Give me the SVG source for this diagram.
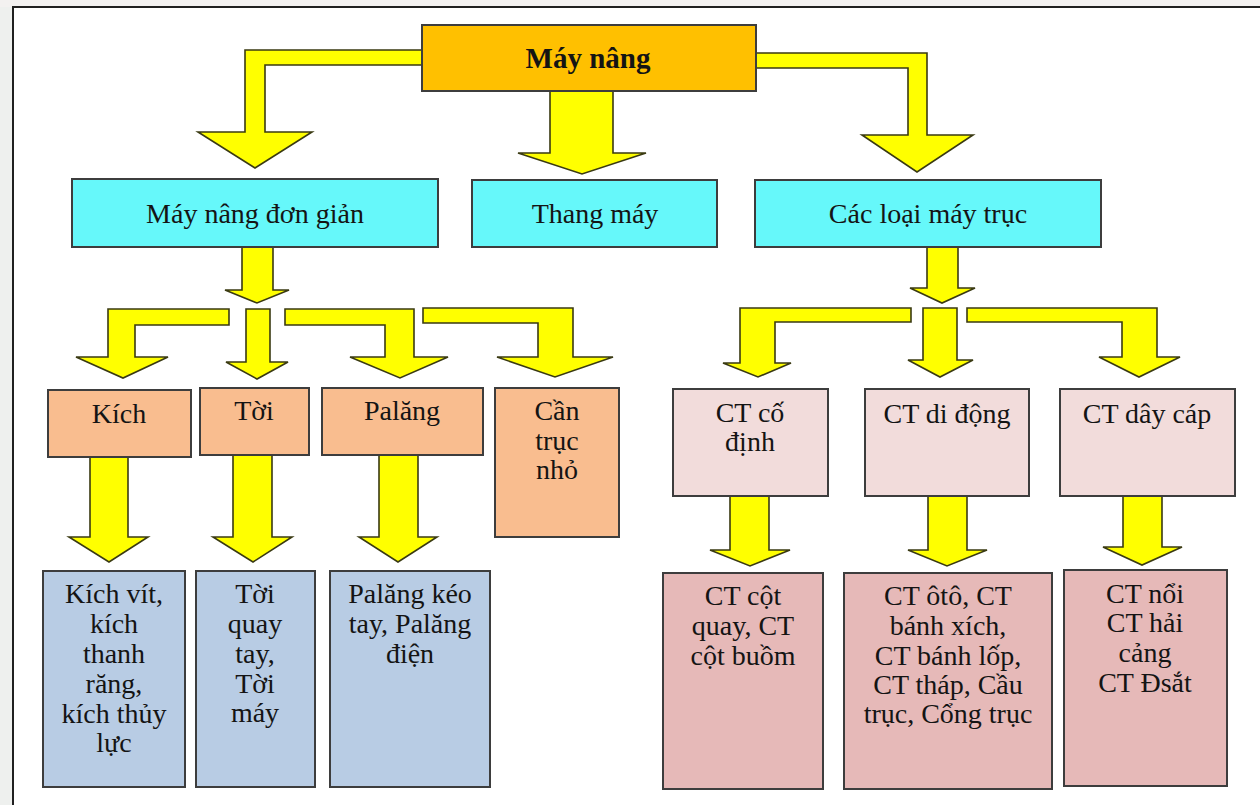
<svg xmlns="http://www.w3.org/2000/svg" width="1260" height="805" viewBox="0 0 1260 805">
<style>
.arr{fill:#FFFF00;stroke:#3a3a12;stroke-width:1.6;stroke-linejoin:miter}
.box{stroke:#3d3d3d;stroke-width:2}
.org{fill:#FFC000}
.cyan{fill:#66F8FA}
.sal{fill:#F9BD8F}
.lpk{fill:#F2DCDB}
.blu{fill:#B8CCE4}
.pnk{fill:#E6B9B8}
text{font-family:"Liberation Serif","Times New Roman",serif;font-size:28px;fill:#141414;text-anchor:middle}
.b{font-weight:bold;font-size:29px}
</style>
<rect x="0" y="0" width="1260" height="805" fill="#EEF0EE"/>
<rect x="0" y="0" width="1260" height="7" fill="#F3F1F0"/>
<rect x="13" y="7" width="1260" height="810" fill="#FFFFFF" stroke="#202020" stroke-width="2"/>
<g id="connectors">
<polygon class="arr" points="422,50 245,50 245,132 198,132 255,168 312,132 265,132 265,65 422,65"/>
<polygon class="arr" points="756,53 927,53 927,135 973,135 917,172 862,135 908,135 908,68 756,68"/>
<polygon class="arr" points="550,91 550,153 518,153 582,174 646,153 613,153 613,91"/>
<polygon class="arr" points="242,247 242,290 225,290 257,303 289,290 273,290 273,247"/>
<polygon class="arr" points="229,309 108,309 108,357 76,357 123,378 168,357 135,357 135,325 229,325"/>
<polygon class="arr" points="246,309 246,362 226,362 257,379 288,362 270,362 270,309"/>
<polygon class="arr" points="285,309 414,309 414,357 448,357 400,378 350,357 385,357 385,325 285,325"/>
<polygon class="arr" points="423,308 573,308 573,357 613,357 555,377 497,357 538,357 538,323 423,323"/>
<polygon class="arr" points="90,457 90,537 69,537 109,562 148,537 128,537 128,457"/>
<polygon class="arr" points="233,455 233,537 213,537 253,562 292,537 272,537 272,455"/>
<polygon class="arr" points="379,455 379,537 359,537 398,562 437,537 418,537 418,455"/>
<polygon class="arr" points="927,247 927,288 910,288 942,303 975,288 958,288 958,247"/>
<polygon class="arr" points="911,308 740,308 740,363 723,363 758,377 791,363 775,363 775,322 911,322"/>
<polygon class="arr" points="923,308 923,360 908,360 940,377 973,360 957,360 957,308"/>
<polygon class="arr" points="967,308 1157,308 1157,357 1180,357 1139,377 1099,357 1122,357 1122,322 967,322"/>
<polygon class="arr" points="730,495 730,550 710,550 750,566 790,550 769,550 769,495"/>
<polygon class="arr" points="928,495 928,550 908,550 947,566 987,550 967,550 967,495"/>
<polygon class="arr" points="1123,495 1123,547 1103,547 1142,565 1182,547 1162,547 1162,495"/>
</g>
<g id="may-nang"><rect class="box org" x="422" y="25" width="334" height="66"/><text class="b" x="588" y="68">Máy nâng</text></g>
<g id="may-nang-don-gian"><rect class="box cyan" x="72" y="179" width="366" height="68"/><text x="255" y="223">Máy nâng đơn giản</text></g>
<g id="thang-may"><rect class="box cyan" x="472" y="180" width="245" height="67"/><text x="595" y="223">Thang máy</text></g>
<g id="cac-loai-may-truc"><rect class="box cyan" x="755" y="180" width="346" height="67"/><text x="928" y="223">Các loại máy trục</text></g>
<g id="kich"><rect class="box sal" x="48" y="390" width="143" height="67"/><text x="119" y="423">Kích</text></g>
<g id="toi"><rect class="box sal" x="200" y="388" width="109" height="67"/><text x="254" y="420">Tời</text></g>
<g id="palang"><rect class="box sal" x="322" y="388" width="161" height="67"/><text x="402" y="420">Palăng</text></g>
<g id="can-truc-nho"><rect class="box sal" x="495" y="388" width="124" height="149"/><text x="557" y="420">Cần</text><text x="557" y="450">trục</text><text x="557" y="479">nhỏ</text></g>
<g id="ct-co-dinh"><rect class="box lpk" x="673" y="389" width="155" height="107"/><text x="750" y="422">CT cố</text><text x="750" y="451">định</text></g>
<g id="ct-di-dong"><rect class="box lpk" x="865" y="389" width="164" height="107"/><text x="947" y="423">CT di động</text></g>
<g id="ct-day-cap"><rect class="box lpk" x="1060" y="389" width="175" height="107"/><text x="1147" y="423">CT dây cáp</text></g>
<g id="kich-vit"><rect class="box blu" x="43" y="571" width="142" height="216"/><text x="114" y="603">Kích vít,</text><text x="114" y="633">kích</text><text x="114" y="663">thanh</text><text x="114" y="693">răng,</text><text x="114" y="723">kích thủy</text><text x="114" y="752">lực</text></g>
<g id="toi-quay"><rect class="box blu" x="196" y="571" width="119" height="216"/><text x="255" y="603">Tời</text><text x="255" y="633">quay</text><text x="255" y="663">tay,</text><text x="255" y="693">Tời</text><text x="255" y="722">máy</text></g>
<g id="palang-keo"><rect class="box blu" x="330" y="571" width="160" height="216"/><text x="410" y="603">Palăng kéo</text><text x="410" y="633">tay, Palăng</text><text x="410" y="663">điện</text></g>
<g id="ct-cot-quay"><rect class="box pnk" x="663" y="573" width="160" height="216"/><text x="743" y="605">CT cột</text><text x="743" y="635">quay, CT</text><text x="743" y="665">cột buồm</text></g>
<g id="ct-oto"><rect class="box pnk" x="844" y="573" width="208" height="216"/><text x="948" y="605">CT ôtô, CT</text><text x="948" y="635">bánh xích,</text><text x="948" y="665">CT bánh lốp,</text><text x="948" y="694">CT tháp, Cầu</text><text x="948" y="723">trục, Cổng trục</text></g>
<g id="ct-noi"><rect class="box pnk" x="1064" y="570" width="163" height="216"/><text x="1145" y="603">CT nổi</text><text x="1145" y="632">CT hải</text><text x="1145" y="662">cảng</text><text x="1145" y="692">CT Đsắt</text></g>
</svg>
